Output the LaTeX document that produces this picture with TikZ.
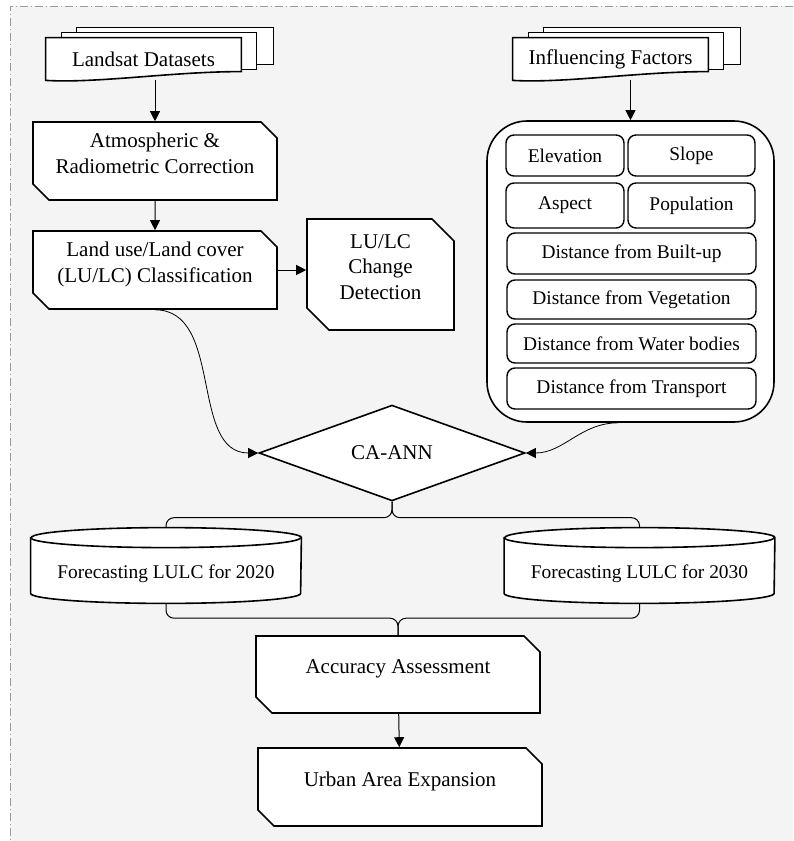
\documentclass[tikz,border=0pt]{standalone}
\usepackage{fontspec}
\setmainfont{Liberation Serif}
\usetikzlibrary{shapes.geometric,shapes.misc,arrows.meta,calc,backgrounds}

\definecolor{bggray}{HTML}{F4F4F4}
\definecolor{rulegray}{HTML}{9A9A9A}
\newcommand{\mainsize}{\fontsize{10.5}{12.8}\selectfont}
\newcommand{\factorsize}{\fontsize{9.7}{11.6}\selectfont}

\tikzset{
  procbox/.style={chamfered rectangle, chamfered rectangle corners={north east,south west},
    chamfered rectangle xsep=5pt, draw, line width=0.8pt, fill=white, align=center,
    inner sep=0pt, text depth=7.5pt, font=\mainsize},
  factorbox/.style={rectangle, rounded corners=4pt, draw, line width=0.7pt, fill=white,
    inner sep=0pt, minimum height=20.5pt, font=\factorsize},
  docnode/.style={inner sep=0pt, minimum width=97.5pt, minimum height=21pt, font=\mainsize},
  cylnode/.style={inner sep=0pt, minimum width=135pt, minimum height=27.5pt,
    text height=15pt, font=\factorsize},
  sheet/.style={draw, line width=0.8pt, fill=white},
  link/.style={->, line width=0.5pt},
  curvelink/.style={->, line width=0.4pt},
}

\begin{document}
\begin{tikzpicture}[x=0.5pt, y=-0.5pt, >={Triangle[length=5pt,width=5pt]}]
    \useasboundingbox (0,0) rectangle (793,841);

    % left column
    \node[docnode] (landsat) at (143.5,59) {Landsat Datasets};
    \node[procbox, minimum width=122pt, minimum height=39pt] (atmos) at (155,161)
        {Atmospheric \&\\Radiometric Correction};
    \node[procbox, minimum width=122pt, minimum height=39pt] (classif) at (155,270)
        {Land use/Land cover\\(LU/LC) Classification};
    \node[procbox, minimum width=73.5pt, minimum height=55.5pt,
          chamfered rectangle xsep=8pt] (change) at (380.5,274.5)
        {LU/LC\\Change\\Detection};

    % right column
    \node[docnode] (influence) at (610.5,59) {Influencing Factors};
    \node[draw, line width=0.8pt, fill=white, rounded corners=20pt,
          minimum width=143.5pt, minimum height=150.5pt] (factors) at (630.5,271.5) {};
    \node[factorbox, minimum width=59pt]   (elev)   at (565,155.5)   {Elevation};
    \node[factorbox, minimum width=63.5pt] (slope)  at (691.5,155.5) {Slope};
    \node[factorbox, minimum width=59pt, minimum height=22.5pt]   (aspect) at (565,205.5)   {Aspect};
    \node[factorbox, minimum width=63.5pt, minimum height=22.5pt] (popul)  at (691.5,205.5) {Population};
    \node[factorbox, minimum width=124.5pt] (builtup) at (631.5,253.5) {Distance from Built-up};
    \node[factorbox, minimum width=124.5pt, minimum height=19.5pt] (veget) at (631.5,299.5) {Distance from Vegetation};
    \node[factorbox, minimum width=124.5pt, minimum height=19.5pt] (water) at (631.5,343.5) {Distance from Water bodies};
    \node[factorbox, minimum width=124.5pt] (transp) at (631.5,388.5) {Distance from Transport};

    % model and outputs
    \node[diamond, draw, line width=0.8pt, fill=white, inner sep=0pt, font=\mainsize,
          minimum width=133pt, minimum height=44pt] (caann) at (392,453) {CA-ANN};
    \node[cylnode] (fc20) at (166,565.5) {Forecasting LULC for 2020};
    \node[cylnode] (fc30) at (639.5,565.5) {Forecasting LULC for 2030};
    \node[procbox, minimum width=142pt, minimum height=38.5pt] (acc) at (398,674.5)
        {Accuracy Assessment};
    \node[procbox, minimum width=142pt, minimum height=39pt] (urban) at (400,787)
        {Urban Area Expansion};

    % connectors
    \draw[link] (landsat.south -| atmos.north) -- (atmos.north);
    \draw[link] (atmos) -- (classif);
    \draw[link] (classif.east) -- (classif.east -| change.west);
    \draw[link] (influence.south -| factors.north) -- (factors.north);
    \draw[curvelink] (classif.south) to[out=0, in=180] (caann.west);
    \draw[curvelink] ([xshift=-6pt]factors.south) to[out=180, in=0] (caann.east);
    \draw[line width=0.5pt, rounded corners=4pt] (caann.south) -- ++(0,16) -| ([yshift=5pt]fc20.north);
    \draw[line width=0.5pt, rounded corners=4pt] (caann.south) -- ++(0,16) -| ([yshift=5pt]fc30.north);
    \draw[line width=0.5pt, rounded corners=4pt] ([yshift=-5pt]fc20.south) |- ($(acc.north)+(0,-17)$) -- (acc.north);
    \draw[line width=0.5pt, rounded corners=4pt] ([yshift=-5pt]fc30.south) |- ($(acc.north)+(0,-17)$) -- (acc.north);
    \draw[link] (acc) -- (urban);

    \begin{scope}[on background layer]
      \fill[bggray] (10,6) rectangle (793,841);
      \draw[rulegray, line width=0.5pt, dash pattern=on 4pt off 1.5pt on 0.5pt off 1.5pt]
          (793,6) -- (10,6) -- (10,841);
      % stacked documents
      \foreach \d in {landsat,influence} {
        \draw[sheet] ($(\d.north west)+(31,-10)$) rectangle ($(\d.north east)+(32,27)$);
        \draw[sheet] ($(\d.north west)+(16,-5)$) rectangle ($(\d.north east)+(15,32)$);
        \draw[sheet] (\d.north west) -- (\d.north east) -- ($(\d.north east)+(0,34)$)
            .. controls ($(\d.north east)+(-70,34)$) and ($(\d.south west)+(53,3)$) .. (\d.south west) -- cycle;
      }
      % cylinders
      \foreach \c in {fc20,fc30} {
        \draw[sheet] (\c.north west) -- (\c.south west)
            arc[start angle=180, end angle=360, x radius=67.5pt, y radius=5pt] -- (\c.north east)
            arc[start angle=0, end angle=180, x radius=67.5pt, y radius=5pt] -- cycle;
        \draw[line width=0.8pt] (\c.north west) arc[start angle=180, end angle=360, x radius=67.5pt, y radius=5pt];
      }
    \end{scope}
\end{tikzpicture}
\end{document}
